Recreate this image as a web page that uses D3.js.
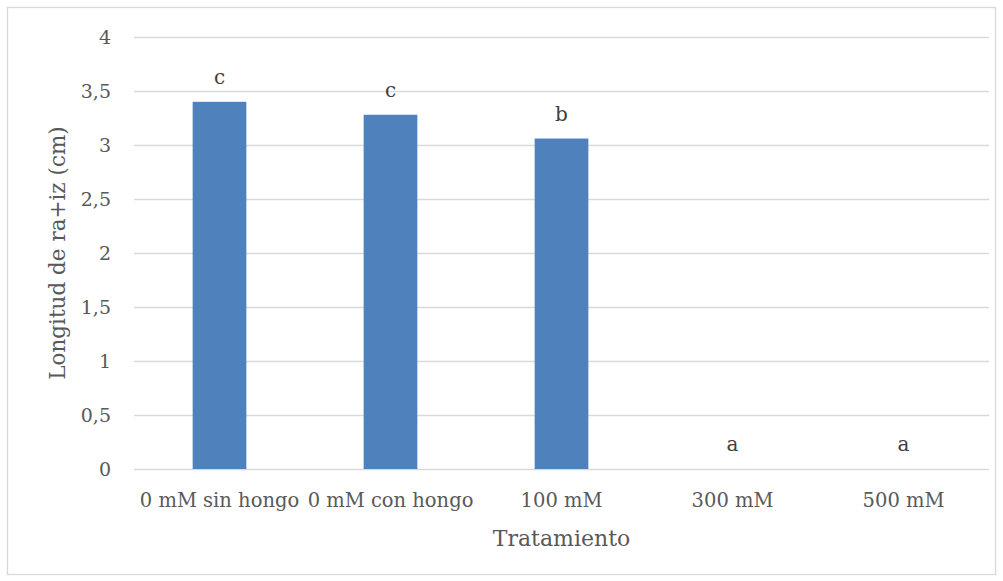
<!DOCTYPE html>
<html>
<head>
<meta charset="utf-8">
<script src="https://cdn.jsdelivr.net/npm/d3@7"></script>
<style>
  body { margin: 0; background: #fff; }
  text { font-family: "DejaVu Serif", serif; fill: #595959; }
</style>
</head>
<body>
<div id="chart"></div>
<script>
// data
var categories = ["0 mM sin hongo", "0 mM con hongo", "100 mM", "300 mM", "500 mM"];
var values = [3.4, 3.28, 3.06, 0, 0];
var letters = ["c", "c", "b", "a", "a"];
var yTicks = [0, 0.5, 1, 1.5, 2, 2.5, 3, 3.5, 4];

var width = 1003, height = 581;
var margin = {top: 37, right: 15, bottom: 112, left: 134};
var innerwidth = 989 - margin.left,
    innerheight = 469 - margin.top;

var svg = d3.select("#chart").append("svg")
    .attr("width", width)
    .attr("height", height);

// outer chart border
svg.append("rect")
    .attr("x", 7.5).attr("y", 7.5)
    .attr("width", 988).attr("height", 567)
    .attr("fill", "#fff")
    .attr("stroke", "#d9d9d9")
    .attr("stroke-width", 1.3);

var g = svg.append("g")
    .attr("transform", "translate(" + margin.left + "," + margin.top + ")");

var x_scale = d3.scaleBand()
    .domain(categories)
    .range([0, innerwidth])
    .paddingInner(0.686)
    .paddingOuter(0.343);

var y_scale = d3.scaleLinear()
    .domain([0, 4])
    .range([innerheight, 0]);

var fmt = function(d) { return String(d).replace(".", ","); };

// grid
var y_grid = d3.axisLeft(y_scale)
    .tickValues(yTicks)
    .tickSize(-innerwidth)
    .tickFormat("");
g.append("g")
    .attr("class", "y grid")
    .call(y_grid)
    .call(function(s) {
        s.select(".domain").remove();
        s.selectAll("line").attr("stroke", "#d9d9d9").attr("stroke-width", 1.3);
    });

// y axis labels
var y_axis = d3.axisLeft(y_scale)
    .tickValues(yTicks)
    .tickSize(0)
    .tickPadding(23)
    .tickFormat(fmt);
g.append("g")
    .call(y_axis)
    .call(function(s) {
        s.select(".domain").remove();
        s.selectAll("text").style("font-size", "19px").attr("fill", "#595959")
            .style("font-family", "DejaVu Serif");
    });

// x axis labels
var x_axis = d3.axisBottom(x_scale).tickSize(0).tickPadding(24);
g.append("g")
    .attr("transform", "translate(0," + innerheight + ")")
    .call(x_axis)
    .call(function(s) {
        s.select(".domain").remove();
        s.selectAll("text").style("font-size", "19.5px").attr("fill", "#595959")
            .style("font-family", "DejaVu Serif");
    });

// bars
g.selectAll(".bar")
    .data(values)
    .enter().append("rect")
    .attr("class", "bar")
    .attr("x", function(d, i) { return x_scale(categories[i]); })
    .attr("y", function(d) { return y_scale(d); })
    .attr("width", x_scale.bandwidth())
    .attr("height", function(d) { return innerheight - y_scale(d); })
    .attr("fill", "#4f81bd");

// letters above bars
g.selectAll(".lbl")
    .data(values)
    .enter().append("text")
    .attr("class", "lbl")
    .attr("x", function(d, i) { return x_scale(categories[i]) + x_scale.bandwidth() / 2; })
    .attr("y", function(d) { return y_scale(d) - 18; })
    .attr("text-anchor", "middle")
    .style("font-size", "20px")
    .style("fill", "#404040")
    .text(function(d, i) { return letters[i]; });

// axis titles
svg.append("text")
    .attr("x", margin.left + innerwidth / 2)
    .attr("y", 546)
    .attr("text-anchor", "middle")
    .style("font-size", "22px")
    .text("Tratamiento");

svg.append("text")
    .attr("transform", "translate(65," + (margin.top + innerheight / 2) + ") rotate(-90)")
    .attr("text-anchor", "middle")
    .style("font-size", "21.5px")
    .text("Longitud de ra+iz (cm)");
</script>
</body>
</html>
